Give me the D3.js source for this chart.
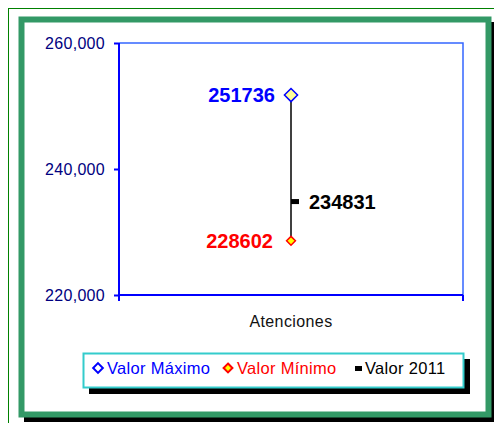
<!DOCTYPE html>
<html>
<head>
<meta charset="utf-8">
<script src="https://cdn.jsdelivr.net/npm/d3@7"></script>
<style>
  body { margin: 0; background: #fff; }
  svg { display: block; font-family: "Liberation Sans", Arial, sans-serif; }
</style>
</head>
<body>
<svg id="chart" width="494" height="423"></svg>
<script>
// chart data
var categories = ["Atenciones"];
var maxValues = [251736];
var minValues = [228602];
var values2011 = [234831];
var yTicks = [220000, 240000, 260000];
var legendLabels = ["Valor Máximo", "Valor Mínimo", "Valor 2011"];

var width = 494, height = 423;
var plot = { left: 119, top: 43, right: 463, bottom: 295 };

var svg = d3.select("#chart");

// outer frames
svg.append("rect")
  .attr("x", 8.5).attr("y", 8.5)
  .attr("width", 500).attr("height", 500)
  .attr("fill", "none").attr("stroke", "#008000").attr("stroke-width", 1);

svg.append("rect")
  .attr("x", 24).attr("y", 22)
  .attr("width", 471).attr("height", 400)
  .attr("fill", "#000");
svg.append("rect")
  .attr("x", 21.5).attr("y", 19.5)
  .attr("width", 467).attr("height", 395)
  .attr("fill", "#fff").attr("stroke", "#339966").attr("stroke-width", 6);

var y = d3.scaleLinear().domain([220000, 260000]).range([plot.bottom, plot.top]);
var x = d3.scaleBand().domain(categories).range([plot.left, plot.right]).padding(0);

// plot area border (top/right)
svg.append("path")
  .attr("d", "M" + plot.left + "," + plot.top + "H" + plot.right + "V" + plot.bottom)
  .attr("fill", "none").attr("stroke", "#3366ff").attr("stroke-width", 1.5);

// y axis
var yAxis = svg.append("g")
  .attr("transform", "translate(" + plot.left + ",0)")
  .call(d3.axisLeft(y).tickValues(yTicks).tickSize(5).tickPadding(9).tickFormat(d3.format(",")));
yAxis.attr("font-size", null).attr("font-family", null);
yAxis.select(".domain").attr("stroke", "#0000ff").attr("stroke-width", 2)
  .attr("d", "M0," + plot.top + "V" + plot.bottom);
yAxis.selectAll(".tick line").attr("stroke", "#0000ff").attr("stroke-width", 2);
yAxis.selectAll(".tick text").attr("fill", "#000080")
  .style("font-size", "16px").style("letter-spacing", "0.3px");

// x axis
var xAxis = svg.append("g")
  .attr("transform", "translate(0," + plot.bottom + ")")
  .call(d3.axisBottom(x).tickSize(0).tickFormat(""));
xAxis.select(".domain").attr("stroke", "#0000ff").attr("stroke-width", 2)
  .attr("d", "M" + plot.left + ",0H" + plot.right);
[plot.left, plot.right].forEach(function(px){
  xAxis.append("line").attr("x1", px).attr("x2", px).attr("y1", 0).attr("y2", 6)
    .attr("stroke", "#0000ff").attr("stroke-width", 2);
});
svg.append("text")
  .attr("x", x(categories[0]) + x.bandwidth() / 2)
  .attr("y", 327)
  .attr("text-anchor", "middle")
  .style("font-size", "16px").style("letter-spacing", "0.4px")
  .attr("fill", "#111")
  .text(categories[0]);

// series
var diamond = d3.symbol().type(d3.symbolDiamond2);

categories.forEach(function(c, i){
  var cx = x(c) + x.bandwidth() / 2;
  svg.append("line")
    .attr("x1", cx).attr("x2", cx)
    .attr("y1", y(maxValues[i])).attr("y2", y(minValues[i]))
    .attr("stroke", "#000").attr("stroke-width", 1.5);

  // 2011 tick
  svg.append("rect")
    .attr("x", cx).attr("y", y(values2011[i]) - 2.5)
    .attr("width", 8).attr("height", 5).attr("fill", "#000");

  svg.append("path")
    .attr("d", diamond.size(110)())
    .attr("transform", "translate(" + cx + "," + y(maxValues[i]) + ")")
    .attr("fill", "#ffff99").attr("stroke", "#0000ff").attr("stroke-width", 1.5);
  svg.append("path")
    .attr("d", diamond.size(50)())
    .attr("transform", "translate(" + cx + "," + y(minValues[i]) + ")")
    .attr("fill", "#ffff00").attr("stroke", "#ff0000").attr("stroke-width", 1.5);

  svg.append("text")
    .attr("x", cx - 16).attr("y", y(maxValues[i]))
    .attr("dy", "0.35em").attr("text-anchor", "end")
    .style("font-size", "20px").style("font-weight", "bold")
    .attr("fill", "#0000ff").text(maxValues[i]);
  svg.append("text")
    .attr("x", cx - 18).attr("y", y(minValues[i]))
    .attr("dy", "0.35em").attr("text-anchor", "end")
    .style("font-size", "20px").style("font-weight", "bold")
    .attr("fill", "#ff0000").text(minValues[i]);
  svg.append("text")
    .attr("x", cx + 18).attr("y", y(values2011[i]))
    .attr("dy", "0.35em").attr("text-anchor", "start")
    .style("font-size", "20px").style("font-weight", "bold")
    .attr("fill", "#000").text(values2011[i]);
});

// legend
var lg = svg.append("g");
lg.append("rect").attr("x", 89).attr("y", 359).attr("width", 381).attr("height", 35).attr("fill", "#000");
lg.append("rect").attr("x", 83.5).attr("y", 353.5).attr("width", 380).attr("height", 34)
  .attr("fill", "#fff").attr("stroke", "#33cccc").attr("stroke-width", 2);

var legendItems = [
  { label: legendLabels[0], x: 98, color: "#0000ff", kind: "max" },
  { label: legendLabels[1], x: 228, color: "#ff0000", kind: "min" },
  { label: legendLabels[2], x: 358, color: "#000", kind: "val" }
];
var ly = 368;
legendItems.forEach(function(d){
  if (d.kind === "val") {
    lg.append("rect").attr("x", d.x - 3).attr("y", ly - 2).attr("width", 7).attr("height", 5).attr("fill", "#000");
  } else {
    lg.append("path")
      .attr("d", diamond.size(d.kind === "max" ? 60 : 50)())
      .attr("transform", "translate(" + d.x + "," + ly + ")")
      .attr("fill", d.kind === "max" ? "#fff" : "#ffff00")
      .attr("stroke", d.color).attr("stroke-width", 2);
  }
  lg.append("text")
    .attr("x", d.x + (d.kind === "val" ? 7 : 9)).attr("y", ly)
    .attr("dy", "0.35em")
    .style("font-size", "16.5px").style("letter-spacing", "0.3px")
    .attr("fill", d.color)
    .text(d.label);
});
</script>
</body>
</html>
